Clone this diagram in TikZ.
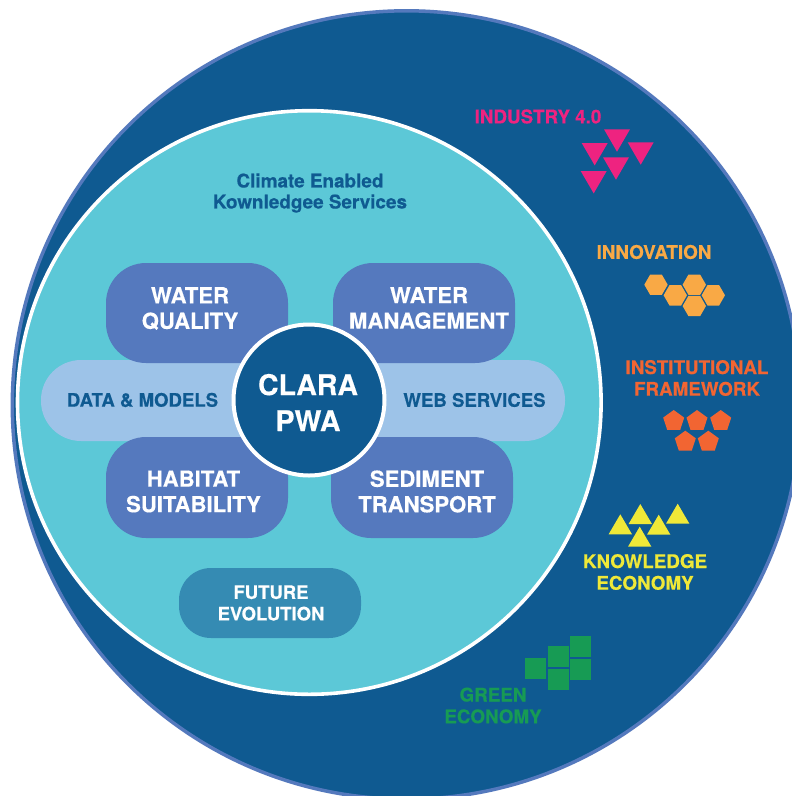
\documentclass[tikz,border=0pt]{standalone}
\usepackage{fontspec}
\setmainfont{TeX Gyre Heros}[BoldFeatures={FakeBold=0.4}]
\definecolor{outerblue}{HTML}{0F5A91}
\definecolor{outeredge}{HTML}{5479BD}
\definecolor{innerteal}{HTML}{5CC8D7}
\definecolor{pillblue}{HTML}{5579BE}
\definecolor{bandblue}{HTML}{9DC3E8}
\definecolor{futureblue}{HTML}{358BB3}
\definecolor{cpink}{HTML}{EE2380}
\definecolor{corange}{HTML}{F9A945}
\definecolor{cinst}{HTML}{F26532}
\definecolor{cyellow}{HTML}{EFE838}
\definecolor{cgreen}{HTML}{179B54}
\tikzset{
  pilltext/.style={inner sep=0pt,align=center,text=white,font=\bfseries\fontsize{22.1}{25.5}\selectfont},
  bandtext/.style={inner sep=0pt,text=outerblue,font=\bfseries\fontsize{18.6}{22}\selectfont},
  sidetext/.style={inner sep=0pt,align=center,font=\bfseries\fontsize{18.8}{21.7}\selectfont},
}
\begin{document}
\begin{tikzpicture}[x=1pt,y=-1pt]
\useasboundingbox (0,0) rectangle (792,796);
\clip (0,0) rectangle (792,796);
\fill[white] (0,0) rectangle (792,796);
% circles
\filldraw[fill=outerblue,draw=outeredge,line width=3.5pt] (406.5,405) circle[radius=394.2];
\filldraw[fill=innerteal,draw=white,line width=3.6pt] (309.3,402.5) circle[radius=291.8];
% band
\fill[bandblue,rounded corners=40] (41,360) rectangle (565,441);
% pills
\fill[pillblue,rounded corners=40] (106,263) rectangle (288,363);
\fill[pillblue,rounded corners=40] (333,263) rectangle (515,363);
\fill[pillblue,rounded corners=40] (106,437) rectangle (288,538);
\fill[pillblue,rounded corners=40] (331,437) rectangle (513,538);
\fill[futureblue,rounded corners=32] (179,568) rectangle (361,638);
% centre
\filldraw[fill=outerblue,draw=white,line width=4pt] (309,400) circle[radius=75.5];
% labels
\node[sidetext,text=outerblue,font=\bfseries\fontsize{18.9}{21}\selectfont] (title) at (310,193) {Climate Enabled\\Kownledgee Services};
\node[pilltext] (wq) at (190,308.5) {WATER\\QUALITY};
\node[pilltext] (wm) at (429,308) {WATER\\MANAGEMENT};
\node[pilltext] (hs) at (193.5,491.5) {HABITAT\\SUITABILITY};
\node[pilltext] (st) at (427,491.5) {SEDIMENT\\TRANSPORT};
\node[inner sep=0pt,align=center,text=white,font=\bfseries\fontsize{18.5}{21.5}\selectfont] (fe) at (271,603) {FUTURE\\EVOLUTION};
\node[bandtext] (dm) at (142.5,400) {DATA \& MODELS};
\node[bandtext] (ws) at (474.5,400) {WEB SERVICES};
\node[inner sep=0pt,align=center,text=white,font=\bfseries\fontsize{28.5}{36}\selectfont] (clara) at (308,402.5) {CLARA\\PWA};
\node[sidetext,text=cpink] (ind) at (538,116.5) {INDUSTRY 4.0};
\node[sidetext,text=corange] (inn) at (654,252) {INNOVATION};
\node[sidetext,text=cinst] (inst) at (697,378) {INSTITUTIONAL\\FRAMEWORK};
\node[sidetext,text=cyellow] (ke) at (645,572) {KNOWLEDGE\\ECONOMY};
\node[sidetext,text=cgreen] (ge) at (493,705.5) {GREEN\\ECONOMY};
% inverted triangles
\foreach \x/\y in {604/129.3,627.7/142.3,581.7/143,603/157.3,580.7/171}
  \fill[cpink] (\x,\y) -- ++(26,0) -- ++(-13,22.4) -- cycle;
% hexagons
\foreach \x/\y in {656/284.7,675.3/295.3,694.3/284.7,713.3/295.3,694.3/306}
  \fill[corange] (\x-11.7,\y) -- (\x-5.8,\y-10.2) -- (\x+5.8,\y-10.2) -- (\x+11.7,\y) -- (\x+5.8,\y+10.2) -- (\x-5.8,\y+10.2) -- cycle;
% pentagons
\foreach \x/\y in {673.7/421,697/421,720.7/421,685.3/441.7,708.3/441.7}
  \fill[cinst] (\x,\y-11) -- (\x+10.5,\y-3.4) -- (\x+6.5,\y+8.9) -- (\x-6.5,\y+8.9) -- (\x-10.5,\y-3.4) -- cycle;
% yellow triangles
\foreach \x/\y in {620.3/514.3,640.3/504,658.7/514.7,677.7/503.7,639.7/526.7}
  \fill[cyellow] (\x,\y) -- ++(11.7,20) -- ++(-23.4,0) -- cycle;
% squares
\foreach \x/\y in {525/658,548/646,548/669,570/636,570/659}
  \fill[cgreen] (\x,\y) rectangle ++(21,21);
\end{tikzpicture}
\end{document}
